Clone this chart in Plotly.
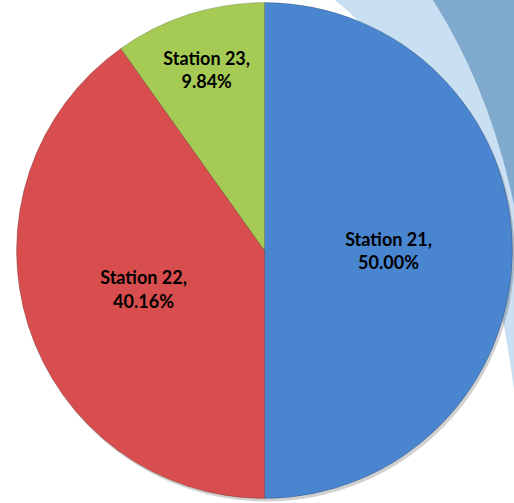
import plotly.graph_objects as go

labels = ["Station 21", "Station 22", "Station 23"]
values = [50.00, 40.16, 9.84]
colors = ["#4a85cf", "#d84d4d", "#a6cb55"]

W, H = 514, 503

def px(x, y):
    """screen pixel -> paper coords"""
    return f"{x / W:.5f},{1 - y / H:.5f}"

light_path = f"M {px(335, 0)} Q {px(480, 120)} {px(514, 390)} L {px(514, 0)} Z"
dark_path = f"M {px(433, 0)} Q {px(490, 90)} {px(514, 205)} L {px(514, 0)} Z"

cx, cy, r = 264.5, 250.5, 248
sx, sy = 2, 3
fig = go.Figure(go.Pie(
    labels=labels,
    values=values,
    sort=False,
    direction="clockwise",
    rotation=0,
    marker=dict(colors=colors, line=dict(color="rgba(0,0,0,0.18)", width=1)),
    texttemplate="%{label},<br>%{percent:.2%}",
    textposition="inside",
    insidetextorientation="horizontal",
    textfont=dict(family="Lato", size=18, color="#000000", weight="bold"),
    hoverinfo="label+percent",
    showlegend=False,
    domain=dict(x=[(cx - r) / W, (cx + r) / W], y=[(H - cy - r) / H, (H - cy + r) / H]),
))

fig.update_layout(
    width=W, height=H,
    margin=dict(l=0, r=0, t=0, b=0),
    paper_bgcolor="#ffffff",
    plot_bgcolor="#ffffff",
    shapes=[
        dict(type="path", xref="paper", yref="paper", path=light_path,
             fillcolor="#c9dff2", line=dict(width=0), layer="below"),
        dict(type="path", xref="paper", yref="paper", path=dark_path,
             fillcolor="#80aacd", line=dict(width=0), layer="below"),
        dict(type="circle", xref="paper", yref="paper",
             x0=(cx - r + sx) / W, x1=(cx + r + sx) / W,
             y0=(H - cy - r - sy) / H, y1=(H - cy + r - sy) / H,
             fillcolor="rgba(0,0,0,0.18)", line=dict(width=0), layer="below"),
    ],
)

fig.write_html(
    "out.html",
    config={"displayModeBar": False},
    post_script="document.body.style.margin='0';document.body.style.overflow='hidden';",
)
